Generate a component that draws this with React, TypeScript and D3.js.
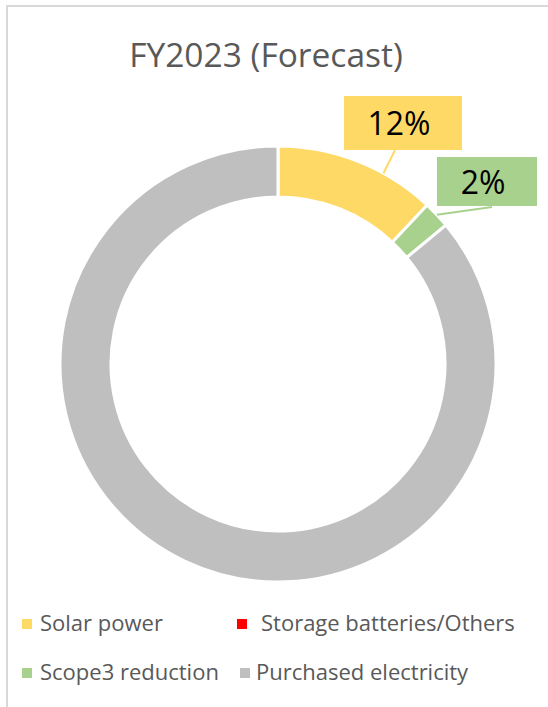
import { useEffect, useRef } from "react";
import * as d3 from "d3";

// chart data
const categories = ["Solar power", "Storage batteries/Others", "Scope3 reduction", "Purchased electricity"];
const shares = [12, 0, 2, 86];
const colors = ["#FFD966", "#FF0000", "#A9D18E", "#BFBFBF"];
const labelText = ["12%", "", "2%", ""];

const W = 548;
const H = 707;

export default function App() {
  const ref = useRef<SVGSVGElement | null>(null);

  useEffect(() => {
    if (!ref.current) return;
    const svg = d3.select(ref.current);
    svg.selectAll("*").remove();
    const font = "'Open Sans', 'Noto Sans', sans-serif";

    // frame
    svg.append("rect")
      .attr("x", 7).attr("y", 6)
      .attr("width", W + 20).attr("height", H + 20)
      .attr("fill", "#fff")
      .attr("stroke", "#D9D9D9")
      .attr("stroke-width", 2);

    svg.append("text")
      .attr("x", 266).attr("y", 67)
      .attr("text-anchor", "middle")
      .attr("font-family", font)
      .attr("font-size", 33.5)
      .attr("fill", "#595959")
      .text("FY2023 (Forecast)");

    const cx = 278, cy = 364;
    const outerR = 218, innerR = 167;
    const pie = d3.pie<number>().sort(null).value(d => d);
    const arcs = pie(shares);
    const arc = d3.arc<d3.PieArcDatum<number>>().innerRadius(innerR).outerRadius(outerR);

    const g = svg.append("g").attr("transform", `translate(${cx},${cy})`);
    g.selectAll("path")
      .data(arcs.filter(a => a.value > 0))
      .join("path")
      .attr("d", arc)
      .attr("fill", d => colors[d.index])
      .attr("stroke", "#fff")
      .attr("stroke-width", 3);

    // data labels with leader lines (t = where along the slice the leader touches)
    const boxes = [
      { i: 0, x: 344, y: 96, w: 118, h: 54, lx: 395, ly: 150, t: 0.67 },
      { i: 2, x: 437, y: 157, w: 100, h: 49, lx: 492, ly: 207, t: 0.5 },
    ];
    boxes.forEach(b => {
      const a = arcs[b.i];
      const ang = a.startAngle + b.t * (a.endAngle - a.startAngle);
      const px = Math.sin(ang) * outerR;
      const py = -Math.cos(ang) * outerR;
      svg.append("line")
        .attr("x1", b.lx).attr("y1", b.ly)
        .attr("x2", cx + px).attr("y2", cy + py)
        .attr("stroke", colors[b.i])
        .attr("stroke-width", 2);
      svg.append("rect")
        .attr("x", b.x).attr("y", b.y)
        .attr("width", b.w).attr("height", b.h)
        .attr("fill", colors[b.i]);
      svg.append("text")
        .attr("x", b.x + b.w / 2 - 4).attr("y", b.y + b.h / 2 + 12)
        .attr("text-anchor", "middle")
        .attr("font-family", font)
        .attr("font-size", 32)
        .attr("fill", "#000")
        .text(labelText[b.i]);
    });

    // legend
    const legendPos = [
      { x: 22, y: 619, tx: 40 },
      { x: 237, y: 619, tx: 261 },
      { x: 22, y: 668, tx: 40 },
      { x: 240, y: 668, tx: 256 },
    ];
    categories.forEach((c, i) => {
      const p = legendPos[i];
      svg.append("rect")
        .attr("x", p.x).attr("y", p.y)
        .attr("width", 10).attr("height", 10)
        .attr("fill", colors[i]);
      svg.append("text")
        .attr("x", p.tx).attr("y", p.y + 12)
        .attr("font-family", font)
        .attr("font-size", 22)
        .attr("fill", "#595959")
        .text(c);
    });
  }, []);

  return (
    <svg
      ref={ref}
      width={W}
      height={H}
      style={{ position: "absolute", left: 0, top: 0, display: "block" }}
    />
  );
}
